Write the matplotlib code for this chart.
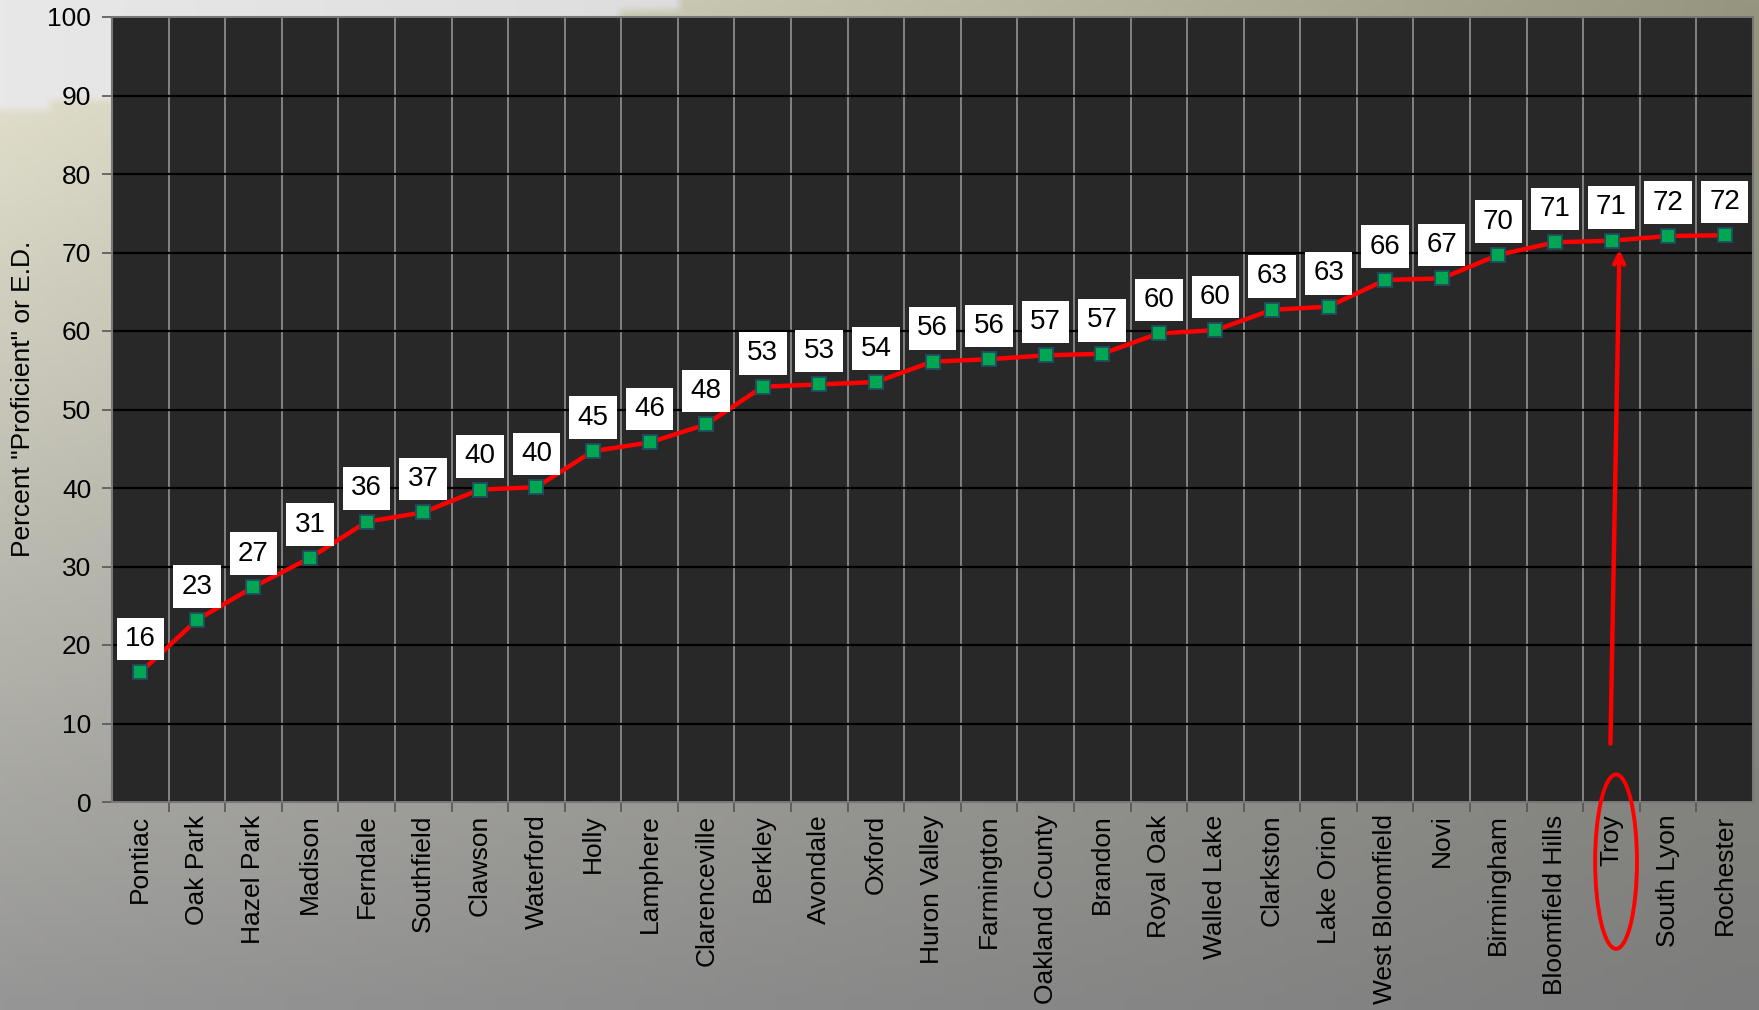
import matplotlib
matplotlib.use("Agg")
import matplotlib.pyplot as plt
from matplotlib.patches import Ellipse
import numpy as np

districts = ['Pontiac', 'Oak Park', 'Hazel Park', 'Madison', 'Ferndale',
             'Southfield', 'Clawson', 'Waterford', 'Holly', 'Lamphere',
             'Clarenceville', 'Berkley', 'Avondale', 'Oxford', 'Huron Valley',
             'Farmington', 'Oakland County', 'Brandon', 'Royal Oak',
             'Walled Lake', 'Clarkston', 'Lake Orion', 'West Bloomfield',
             'Novi', 'Birmingham', 'Bloomfield Hills', 'Troy', 'South Lyon',
             'Rochester']
percent = [16.5, 23.2, 27.4, 31.1, 35.7, 36.9, 39.8, 40.1, 44.7, 45.8,
           48.1, 52.9, 53.2, 53.5, 56.1, 56.4, 56.9, 57.1, 59.7, 60.1,
           62.7, 63.1, 66.5, 66.7, 69.7, 71.3, 71.5, 72.1, 72.2]
labels = [16, 23, 27, 31, 36, 37, 40, 40, 45, 46, 48, 53, 53, 54, 56, 56,
          57, 57, 60, 60, 63, 63, 66, 67, 70, 71, 71, 72, 72]
highlight = 'Troy'

plt.rcParams['font.family'] = ['Liberation Sans', 'DejaVu Sans']

fig = plt.figure(figsize=(17.59, 10.10), dpi=100)

# background: light grey top-left, beige/olive fading to grey below
H, W = 101, 176
yy, xx = np.mgrid[0:H, 0:W]
yp = yy / (H - 1) * 1010
xp = xx / (W - 1) * 1759
s = (xp / 1759)[..., None]
t = np.clip(yp / 1010, 0, 1)[..., None]
top_col = (1 - s) * np.array([232, 230, 208]) + s * np.array([150, 150, 128])
bot_col = (1 - s) * np.array([150, 150, 150]) + s * np.array([125, 125, 125])
bg = (1 - t) * top_col + t * bot_col
upper = yp < 109 * (1 - xp / 680)
grey_top = (1 - s) * np.array([232, 232, 232]) + s * np.array([205, 205, 205])
bg[upper] = grey_top[upper]
bg_ax = fig.add_axes([0, 0, 1, 1])
bg_ax.imshow(bg.astype(np.uint8), extent=[0, 1, 0, 1], aspect='auto',
             interpolation='bilinear')
bg_ax.axis('off')

ax = fig.add_axes([112 / 1759, 1 - 802 / 1010, 1641 / 1759, 785 / 1010])
ax.set_facecolor('#282828')

x = np.arange(len(districts))
ax.plot(x, percent, color='#ff0000', lw=3.2, marker='s', markersize=9.5,
        markerfacecolor='#00a651', markeredgecolor='#1f4e5f',
        markeredgewidth=1.3, zorder=4)

for xi, yi, lab in zip(x, percent, labels):
    ax.annotate(str(lab), (xi, yi), xytext=(0, 24), textcoords='offset points',
                ha='center', va='center', fontsize=20, color='black',
                bbox=dict(boxstyle='square,pad=0.3', fc='white', ec='none'),
                zorder=6)

ax.set_xlim(-0.5, len(districts) - 0.5)
ax.set_ylim(0, 100)
ax.set_yticks(range(0, 101, 10))
ax.set_xticks(x)
ax.set_xticklabels(districts, rotation=90, fontsize=19)
ax.set_xticks(np.arange(0.5, len(districts) - 1, 1), minor=True)
ax.tick_params(axis='x', which='major', length=0, pad=9)
ax.tick_params(axis='x', which='minor', length=7, width=1.2, color='#555555')
ax.tick_params(axis='y', length=7, width=1.2, color='#555555', labelsize=19,
               pad=8)
ax.grid(axis='y', color='black', lw=1.6, zorder=1)
ax.grid(axis='x', which='minor', color='#8a8a8a', lw=1.3, zorder=1)
ax.set_axisbelow(True)
for side in ax.spines:
    ax.spines[side].set_color('#777777')
    ax.spines[side].set_linewidth(1.5)

ax.set_ylabel('Percent "Proficient" or E.D.', fontsize=19,
              family=['Liberation Sans Narrow', 'Liberation Sans'])
ax.yaxis.set_label_coords(-0.047, 0.513)

# highlight Troy
ti = districts.index(highlight)
ax.annotate('', xy=(ti + 0.14, percent[ti] - 0.8), xytext=(ti - 0.02, 7.1),
            arrowprops=dict(arrowstyle='->,head_length=0.7,head_width=0.35',
                            color='#ff0000', lw=3.2), zorder=5)
ax.add_patch(Ellipse((ti + 0.08, -7.6), 0.74, 22.2, fill=False,
                     ec='#ff0000', lw=2.8, clip_on=False, zorder=7))

fig.savefig('out.png', dpi=100)
